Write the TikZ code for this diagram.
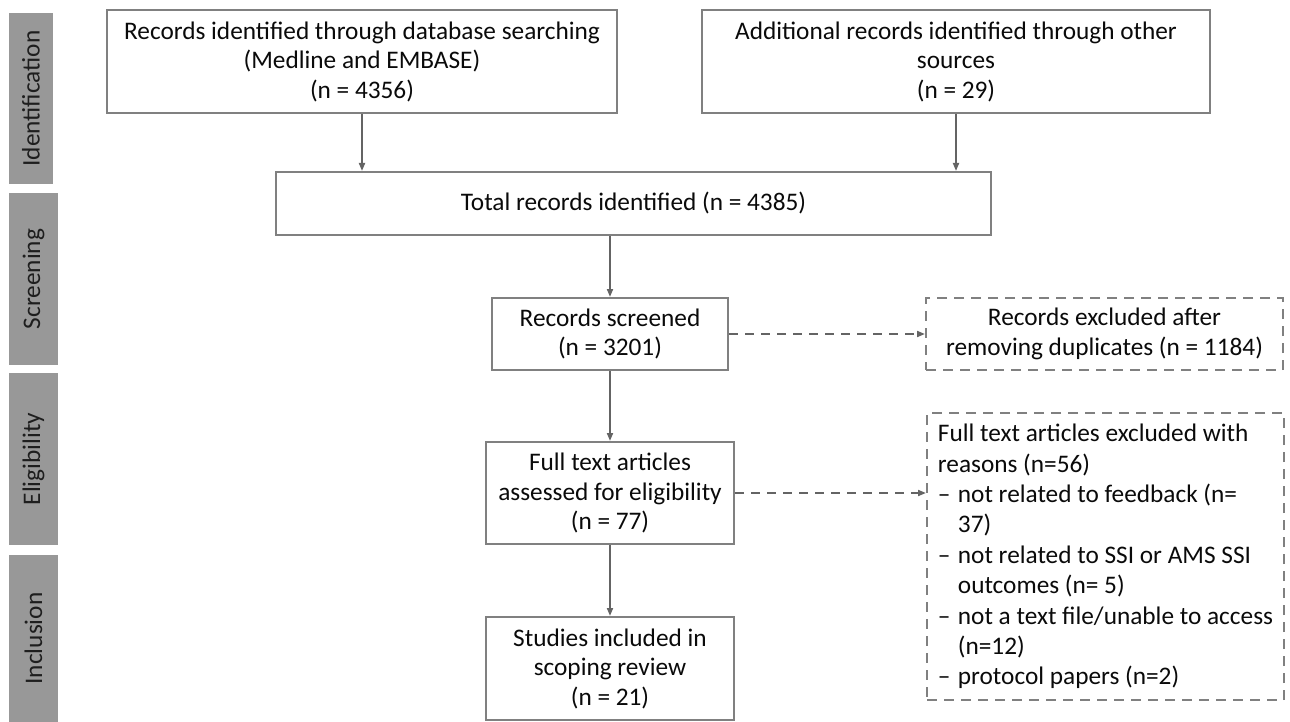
\documentclass[tikz,border=0pt]{standalone}
\usepackage{fontspec}
\setmainfont{Carlito}
\usetikzlibrary{arrows.meta}
\definecolor{barfill}{RGB}{152,152,152}
\definecolor{bartext}{RGB}{30,30,30}
\definecolor{boxline}{RGB}{128,128,128}
\definecolor{arrowcol}{RGB}{100,100,100}
\definecolor{txt}{RGB}{10,10,10}
\newcommand{\dashitem}{\makebox[20pt][l]{–}}
\begin{document}
\begin{tikzpicture}[x=1pt,y=-1pt,
  every node/.style={font=\fontsize{25.3}{29.5}\selectfont, text=txt},
  box/.style={draw=boxline, line width=2pt, align=center, inner sep=0pt},
  dbox/.style={draw=boxline, line width=2pt, dash pattern=on 10pt off 7pt, inner sep=0pt},
  bar/.style={fill=barfill, rotate=90, inner sep=0pt, text=bartext},
  conn/.style={draw=arrowcol, line width=1.8pt, -{Triangle[length=8pt,width=6pt]}},
  dconn/.style={conn, dash pattern=on 9pt off 7pt}]
\useasboundingbox (0,0) rectangle (1290,722);
% phase bars
\node[bar, minimum width=171pt, minimum height=44pt] (lid) at (31,98.5) {Identification};
\node[bar, minimum width=172pt, minimum height=49pt] (lsc) at (33.5,279) {Screening};
\node[bar, minimum width=172pt, minimum height=49pt] (lel) at (33.5,459) {Eligibility};
\node[bar, minimum width=167pt, minimum height=49pt] (lin) at (33.5,638.5) {Inclusion};
% boxes
\node[box, minimum width=510pt, minimum height=103pt] (b1) at (362,61.5)
  {Records identified through database searching\\(Medline and EMBASE)\\(n = 4356)};
\node[box, minimum width=508pt, minimum height=103pt] (b2) at (956,61.5)
  {Additional records identified through other\\sources\\(n = 29)};
\node[box, minimum width=715pt, minimum height=63pt] (tot) at (633.5,203.5)
  {Total records identified (n = 4385)};
\node[box, minimum width=236pt, minimum height=72pt] (scr) at (610,334)
  {Records screened\\(n = 3201)};
\node[dbox, align=center, minimum width=357pt, minimum height=72pt] (dup) at (1104.5,334)
  {Records excluded after\\removing duplicates (n = 1184)};
\node[box, minimum width=248pt, minimum height=102pt] (ft) at (610,493)
  {Full text articles\\assessed for eligibility\\(n = 77)};
\node[dbox, align=left, minimum width=357pt, minimum height=287pt,
  font=\fontsize{25.3}{30.4}\selectfont] (exc) at (1105.5,556.5)
  {Full text articles excluded with\\
   reasons (n=56)\\
   \dashitem not related to feedback (n=\\
   \hspace*{20pt}37)\\
   \dashitem not related to SSI or AMS SSI\\
   \hspace*{20pt}outcomes (n= 5)\\
   \dashitem not a text file/unable to access\\
   \hspace*{20pt}(n=12)\\
   \dashitem protocol papers (n=2)};
\node[box, minimum width=248pt, minimum height=103pt] (st) at (610,668.5)
  {Studies included in\\scoping review\\(n = 21)};
% connectors
\draw[conn] (b1.south) -- (b1.south |- tot.north);
\draw[conn] (b2.south) -- (b2.south |- tot.north);
\draw[conn] (scr.north |- tot.south) -- (scr.north);
\draw[conn] (scr.south) -- (ft.north);
\draw[conn] (ft.south) -- (st.north);
\draw[dconn] (scr.east) -- (dup.west);
\draw[dconn] (ft.east) -- (ft.east -| exc.west);
\end{tikzpicture}
\end{document}
